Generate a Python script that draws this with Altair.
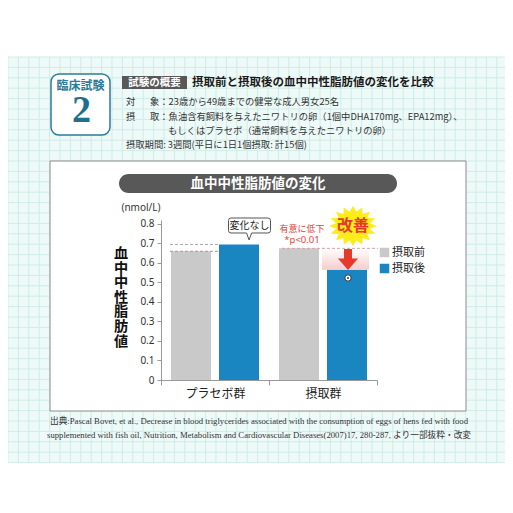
import math
import altair as alt
import pandas as pd

# ---------------- data ----------------
groups = ["プラセボ群", "摂取群"]
phases = ["摂取前", "摂取後"]
before_vals = [0.66, 0.675]
after_vals = [0.695, 0.565]
y_ticks = [0, 0.1, 0.2, 0.3, 0.4, 0.5, 0.6, 0.7, 0.8]

badge_label = "臨床試験"
badge_num = "2"
header_tag = "試験の概要"
header_title = "摂取前と摂取後の血中中性脂肪値の変化を比較"
body_lines = [
    ("対", "象：23歳から49歳までの健常な成人男女25名"),
    ("摂", "取：魚油含有飼料を与えたニワトリの卵（1個中DHA170mg、EPA12mg）、"),
    ("", "もしくはプラセボ（通常飼料を与えたニワトリの卵）"),
    ("摂取期間: 3週間(平日に1日1個摂取: 計15個)", ""),
]
chart_title = "血中中性脂肪値の変化"
unit_label = "(nmol/L)"
y_title = "血中中性脂肪値"
note_nochange = "変化なし"
note_sig = ["有意に低下", "*p<0.01"]
note_improve = "改善"
footnote = [
    "出典:Pascal Bovet, et al., Decrease in blood triglycerides associated with the consumption of eggs of hens fed with food",
    "supplemented with fish oil, Nutrition, Metabolism and Cardiovascular Diseases(2007)17, 280-287, より一部抜粋・改変",
]

JP = "Noto Sans CJK JP"
GRAY = "#c9c9c9"
BLUE = "#1a86c1"
TEAL = "#2c7b98"

# ---------------- layout ----------------
OX, OY = 161, 220          # page position of the plot origin
W, H = 216, 160
YMAX = 0.8205


def px(x):
    return x - OX


def py(y):
    return y - OY


one = pd.DataFrame({"k": [0]})


def txt(s, x, y, size, color="#222", weight="normal", align="left",
        baseline="middle", font=JP, **kw):
    return alt.Chart(one).mark_text(
        text=s, fontSize=size, color=color, fontWeight=weight, align=align,
        baseline=baseline, font=font, **kw
    ).encode(x=alt.value(px(x)), y=alt.value(py(y)))


def box(x1, y1, x2, y2, fill, stroke="", sw=0, r=0):
    kw = dict(fill=fill, cornerRadius=r)
    if stroke:
        kw.update(stroke=stroke, strokeWidth=sw)
    return alt.Chart(one).mark_rect(**kw).encode(
        x=alt.value(px(x1)), x2=alt.value(px(x2)),
        y=alt.value(py(y1)), y2=alt.value(py(y2)))


def symbol(path, x, y, size, fill, stroke="", sw=0):
    kw = dict(shape=path, size=size, filled=True, fill=fill, opacity=1)
    if stroke:
        kw.update(stroke=stroke, strokeWidth=sw)
    else:
        kw.update(strokeWidth=0)
    return alt.Chart(one).mark_point(**kw).encode(
        x=alt.value(px(x)), y=alt.value(py(y)))


layers = []

# background grid
layers.append(box(8, 57, 508, 463, "#eefaf8"))
gx, v = [], 8.0
while v <= 508:
    gx.append(px(v)); v += 10.4
gy, v = [], 57.0
while v <= 463:
    gy.append(py(v)); v += 10.4
layers.append(alt.Chart(pd.DataFrame({"gx": gx})).mark_rule(color="#cfece8", strokeWidth=1).encode(
    x=alt.X("gx:Q", scale=None), y=alt.value(py(57)), y2=alt.value(py(463))))
layers.append(alt.Chart(pd.DataFrame({"gy": gy})).mark_rule(color="#cfece8", strokeWidth=1).encode(
    y=alt.Y("gy:Q", scale=None), x=alt.value(px(8)), x2=alt.value(px(508))))

# badge
layers.append(box(51, 74, 110, 135, "white", TEAL, 1.5, 8))
layers.append(txt(badge_label, 80.5, 86, 12, TEAL, "bold", "center"))
layers.append(txt(badge_num, 81.5, 122, 38, "#1f6f8e", "bold", "center", "alphabetic",
                  font="Liberation Serif"))

# header
layers.append(box(122, 76, 187, 89, "#585858"))
layers.append(txt(header_tag, 154.5, 82.5, 10.5, "white", "bold", "center"))
layers.append(txt(header_title, 192, 82.5, 11.5, "#1a1a1a", "bold"))
line_y = [102, 116.5, 130.5, 145]
for (a, b), yy in zip(body_lines, line_y):
    if a:
        layers.append(txt(a, 126, yy, 9.3, "#333"))
    if b:
        layers.append(txt(b, 150 if a else 168, yy, 9.3, "#333"))

# white panel
layers.append(box(50, 161, 466, 411, "white", "#8c8c8c", 1))
layers.append(box(119, 174, 397, 193, "#585858", r=9.5))
layers.append(txt(chart_title, 258, 183.5, 13.5, "white", "bold", "center"))
layers.append(txt(unit_label, 141, 208, 10, "#333", align="center", font="Noto Sans"))
layers.append(alt.Chart(one).mark_text(
    text=list(y_title), fontSize=14.2, lineHeight=14.6, color="#111", fontWeight="bold",
    align="center", baseline="top", font=JP).encode(x=alt.value(px(121)), y=alt.value(py(247))))

# bars
rows = []
for g, b, a in zip(groups, before_vals, after_vals):
    rows.append({"group": g, "phase": phases[0], "value": b})
    rows.append({"group": g, "phase": phases[1], "value": a})
df = pd.DataFrame(rows)
yscale = alt.Scale(domain=[0, YMAX], nice=False, zero=True)
yaxis = alt.Axis(title=None, values=y_ticks, format=".1~f", grid=False,
                 domainColor="#999", tickColor="#999", tickSize=4,
                 labelFontSize=10, labelFont="Noto Sans", labelColor="#333",
                 labelPadding=3, zindex=1)

bars = alt.Chart(df).mark_bar().encode(
    x=alt.X("group:N", sort=groups, scale=alt.Scale(paddingInner=0, paddingOuter=0),
            axis=alt.Axis(title=None, labelAngle=0, tickBand="extent", domainColor="#999",
                          tickColor="#999", tickSize=5, labelFontSize=12, labelFont=JP,
                          labelColor="#222", labelPadding=3, zindex=1)),
    xOffset=alt.XOffset("phase:N", sort=phases,
                        scale=alt.Scale(paddingInner=0.1667, paddingOuter=0.2083)),
    y=alt.Y("value:Q", scale=yscale, axis=yaxis),
    color=alt.Color("phase:N", sort=phases, scale=alt.Scale(domain=phases, range=[GRAY, BLUE]),
                    legend=alt.Legend(title=None, orient="none", legendX=px(379), legendY=py(247),
                                      symbolType="square", symbolSize=90, symbolStrokeWidth=0,
                                      labelFontSize=11, labelFont=JP, labelColor="#222",
                                      rowPadding=4, padding=0, labelOffset=2, zindex=1)),
)
layers.append(bars)

# reference lines and shading
ref = pd.DataFrame({"before": before_vals, "after": after_vals})
layers.append(alt.Chart(ref.iloc[[1]]).mark_rect(
    fill=alt.LinearGradient(gradient="linear", x1=0, x2=0, y1=0, y2=1,
                            stops=[alt.GradientStop(color="#ffffff", offset=0),
                                   alt.GradientStop(color="#f6cccc", offset=1)])).encode(
    y=alt.Y("before:Q", scale=yscale, axis=yaxis), y2="after:Q",
    x=alt.value(px(322)), x2=alt.value(px(369))))
layers.append(alt.Chart(ref.iloc[[0]]).mark_rule(color="#aaaaaa", strokeDash=[3, 2], strokeWidth=1).encode(
    y=alt.Y("after:Q", scale=yscale, axis=yaxis), x=alt.value(px(170)), x2=alt.value(px(218))))
layers.append(alt.Chart(ref.iloc[[0]]).mark_rule(color="#e07c7c", strokeDash=[3, 2], strokeWidth=1).encode(
    y=alt.Y("before:Q", scale=yscale, axis=yaxis), x=alt.value(px(170)), x2=alt.value(px(218))))
layers.append(alt.Chart(ref.iloc[[1]]).mark_rule(color="#d9a0a0", strokeDash=[3, 2], strokeWidth=1).encode(
    y=alt.Y("before:Q", scale=yscale, axis=yaxis), x=alt.value(px(282)), x2=alt.value(px(378))))

# callout "変化なし"
callout = ("M -0.88,-0.357 L 0.88,-0.357 Q 1,-0.357 1,-0.237 L 1,0.237 Q 1,0.357 0.88,0.357 "
           "L 0.1,0.357 L -0.02,0.69 L -0.14,0.357 L -0.88,0.357 Q -1,0.357 -1,0.237 "
           "L -1,-0.237 Q -1,-0.357 -0.88,-0.357 Z")
layers.append(symbol(callout, 249.5, 225.5, 1764, "white", "#555", 1))
layers.append(txt(note_nochange, 249.5, 225.5, 10, "#222", align="center"))

# significance text
layers.append(txt(note_sig[0], 302, 229, 9, "#e0443e", align="center"))
layers.append(txt(note_sig[1], 302, 240, 9.5, "#e0443e", align="center", font="Noto Sans"))

# starburst "改善"
pts = []
n = 16
for i in range(2 * n):
    ang = math.pi * i / n - math.pi / 2
    r = 1.0 if i % 2 == 0 else 0.72
    pts.append((r * math.cos(ang), 0.84 * r * math.sin(ang)))
star = "M " + " L ".join(f"{a:.3f},{b:.3f}" for a, b in pts) + " Z"
layers.append(symbol(star, 353, 226, 2304, "#ffec1a"))
layers.append(txt(note_improve, 353, 226, 16, "#e5392b", "bold", "center"))

# red arrow
arrow = "M -0.4,-1.05 L 0.4,-1.05 L 0.4,-0.1 L 1,-0.1 L 0,1.05 L -1,-0.1 L -0.4,-0.1 Z"
layers.append(symbol(arrow, 348, 259.5, 400, "#e5392b"))

# small marker on the after bar
layers.append(symbol("circle", 348, 278, 40, "white", "#333", 1))
layers.append(symbol("circle", 348, 278, 4, "#333"))

# footnote
layers.append(txt(footnote[0], 259, 421, 8.7, "#333", align="center",
                  font="Liberation Serif, Noto Sans CJK JP"))
layers.append(txt(footnote[1], 259, 435, 8.7, "#333", align="center",
                  font="Liberation Serif, Noto Sans CJK JP"))

chart = alt.layer(*layers).properties(
    width=W, height=H,
    autosize=alt.AutoSizeParams(type="none"),
    padding={"left": 153, "top": 212, "right": 128, "bottom": 125},
    background="white",
).configure_view(strokeWidth=0)

chart.save("out.html", embed_options={"renderer": "svg", "actions": False})
